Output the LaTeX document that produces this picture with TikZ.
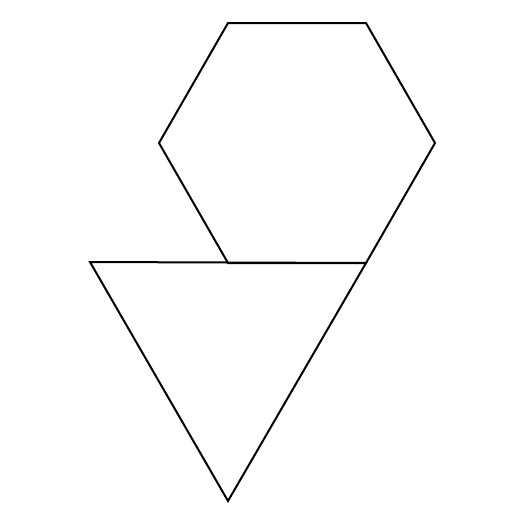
\documentclass[tikz,border=0pt]{standalone}
\begin{document}
\begin{tikzpicture}[x=1pt,y=-1pt,shape line/.style={draw=black,line width=2pt,line join=miter}]
\useasboundingbox (0,0) rectangle (525,525);
\draw[shape line] (228,23) -- (366,23) -- (435,143) -- (366,263) -- (228,263) -- (159,143) -- cycle;
\draw[shape line] (90,262) -- (366,263) -- (228,501) -- cycle;
\end{tikzpicture}
\end{document}
